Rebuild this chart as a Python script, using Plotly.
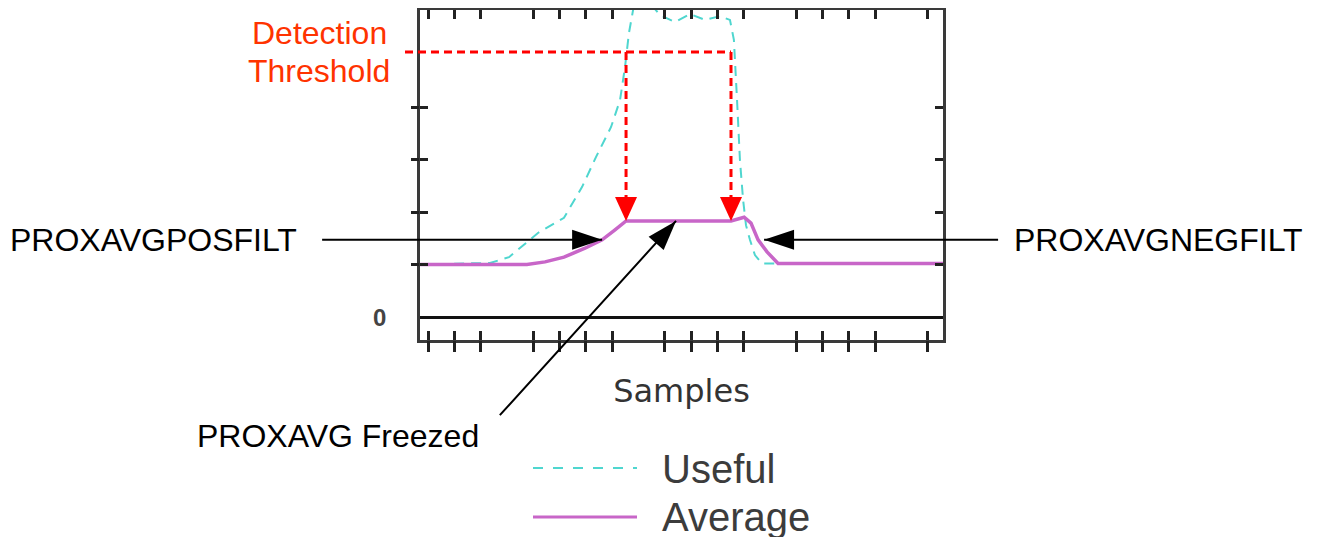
import plotly.graph_objects as go

# ---------------------------------------------------------------
# Data (x: sample index, y: arbitrary level)
# ---------------------------------------------------------------
X_TICKS = [0, 1, 2, 4, 5, 6, 7, 9, 10, 11, 12, 14, 15, 16, 17, 19]
Y_TICKS = [1, 2, 3, 4]
X_RANGE = [-0.304, 19.58]
Y_RANGE = [-0.438, 5.848]

# Useful signal (cyan dashed)
USEFUL_X = [-0.3, 2.36, 3.08, 4.18, 5.17, 5.86, 6.39, 6.96, 7.30, 7.49, 7.64, 7.83, 8.25,
            8.82, 9.39, 9.96, 10.53, 11.1, 11.48, 11.63, 11.75, 11.86, 11.98, 12.09,
            12.24, 12.43, 12.7, 19.6]
USEFUL_Y = [1.0, 1.03, 1.14, 1.6, 1.89, 2.48, 3.05, 3.62, 4.13, 4.76, 5.41, 5.94, 6.1,
            5.75, 5.62, 5.77, 5.66, 5.73, 5.66, 5.28, 4.13, 2.99, 2.23, 1.75,
            1.47, 1.18, 1.02, 1.02]

# Average (magenta solid) - frozen between index 7 and 8
AVG_X = [-0.3, 3.76, 4.45, 5.17, 5.97, 6.62, 7.11, 7.53, 11.52, 12.02, 12.28, 12.55,
         12.89, 13.31, 19.6]
AVG_Y = [1.0, 1.0, 1.05, 1.14, 1.31, 1.47, 1.66, 1.83, 1.83, 1.90, 1.79, 1.47,
         1.24, 1.02, 1.02]

THRESHOLD = 5.05
FREEZE_START, FREEZE_END, FREEZE_LEVEL = AVG_X[7], AVG_X[8], AVG_Y[7]
FREEZE_TIP_X = 9.43

# plot frame in window pixels; the page body adds an 8px margin
PL, PR, PT, PB = 420, 943, 10, 340
BODY = 8
W, H = 1322, 537


def paper(xp=None, yp=None):
    fx = None if xp is None else (xp - PL) / (PR - PL)
    fy = None if yp is None else (PB - yp) / (PB - PT)
    return fx, fy


CYAN = "#4fd6cf"
MAGENTA = "#c866c8"
RED = "#ff0000"
TXT_RED = "#ff3300"
FONT = "Liberation Sans, Arial, sans-serif"

fig = go.Figure()

fig.add_trace(go.Scatter(
    x=USEFUL_X, y=USEFUL_Y, mode="lines", name="Useful",
    line=dict(color=CYAN, width=2, dash="10px,7px"), showlegend=False
))
fig.add_trace(go.Scatter(
    x=AVG_X, y=AVG_Y, mode="lines", name="Average",
    line=dict(color=MAGENTA, width=3.5), showlegend=False
))
# invisible trace so the overlay tick axes get drawn
fig.add_trace(go.Scatter(
    x=AVG_X, y=AVG_Y, xaxis="x2", yaxis="y2", mode="lines",
    line=dict(width=0), opacity=0, hoverinfo="skip", showlegend=False
))

shapes = []
# threshold (dotted red)
x_end = (FREEZE_END - X_RANGE[0]) / (X_RANGE[1] - X_RANGE[0])
shapes.append(dict(type="line", xref="paper", yref="y", x0=paper(405)[0], x1=x_end,
                   y0=THRESHOLD, y1=THRESHOLD,
                   line=dict(color=RED, width=3, dash="8px,5px")))
for xv in (FREEZE_START, FREEZE_END):
    shapes.append(dict(type="line", xref="x", yref="y", x0=xv, x1=xv,
                       y0=THRESHOLD, y1=FREEZE_LEVEL + 0.3,
                       line=dict(color=RED, width=3, dash="8px,5px")))
    shapes.append(dict(type="path", xref="x", yref="y", xsizemode="pixel", ysizemode="pixel",
                       xanchor=xv, yanchor=FREEZE_LEVEL,
                       path="M0,0 L-11,24 L11,24 Z", fillcolor=RED, line=dict(width=0)))

# black arrow heads
shapes.append(dict(type="path", xref="x", yref="y", xsizemode="pixel", ysizemode="pixel",
                   xanchor=AVG_X[5], yanchor=AVG_Y[5],
                   path="M0,0 L-30,10 L-30,-10 Z", fillcolor="black", line=dict(width=0)))
shapes.append(dict(type="path", xref="x", yref="y", xsizemode="pixel", ysizemode="pixel",
                   xanchor=AVG_X[11], yanchor=AVG_Y[11],
                   path="M6,0 L36,10 L36,-10 Z", fillcolor="black", line=dict(width=0)))
shapes.append(dict(type="path", xref="x", yref="y", xsizemode="pixel", ysizemode="pixel",
                   xanchor=FREEZE_TIP_X, yanchor=FREEZE_LEVEL,
                   path="M0,0 L-27.4,-15.8 L-12.4,-29.1 Z", fillcolor="black",
                   line=dict(width=0)))

# legend samples
lx0, ly1 = paper(533, 468)
lx1, ly2 = paper(637, 517)
shapes.append(dict(type="line", xref="paper", yref="paper", x0=lx0, x1=lx1, y0=ly1, y1=ly1,
                   line=dict(color=CYAN, width=2, dash="10px,10px")))
shapes.append(dict(type="line", xref="paper", yref="paper", x0=lx0, x1=lx1, y0=ly2, y1=ly2,
                   line=dict(color=MAGENTA, width=3)))

annotations = []
arrow_font = dict(family=FONT, size=32, color="black")
annotations.append(dict(x=AVG_X[5], y=AVG_Y[5], xref="x", yref="y", text="PROXAVGPOSFILT",
                        showarrow=True, arrowhead=0, arrowwidth=2, arrowcolor="black",
                        axref="pixel", ayref="pixel", ax=299 - 602, ay=0,
                        xanchor="right", yanchor="middle", startstandoff=23, font=arrow_font))
annotations.append(dict(x=AVG_X[11], y=AVG_Y[11], xref="x", yref="y", text="PROXAVGNEGFILT",
                        showarrow=True, arrowhead=0, arrowwidth=2, arrowcolor="black",
                        axref="pixel", ayref="pixel", ax=1012 - 758, ay=0,
                        xanchor="left", yanchor="middle", startstandoff=14, standoff=6,
                        font=arrow_font))
annotations.append(dict(x=FREEZE_TIP_X, y=FREEZE_LEVEL, xref="x", yref="y",
                        text="PROXAVG Freezed",
                        showarrow=True, arrowhead=0, arrowwidth=2, arrowcolor="black",
                        axref="pixel", ayref="pixel", ax=481 - 676, ay=437 - 222,
                        xanchor="right", yanchor="middle", startstandoff=28, font=arrow_font))

tx, ty1 = paper(319, 33)
_, ty2 = paper(319, 71)
annotations.append(dict(x=tx, y=ty1, xref="paper", yref="paper", text="Detection",
                        xanchor="center", yanchor="middle",
                        showarrow=False, font=dict(family=FONT, size=32, color=TXT_RED)))
annotations.append(dict(x=tx, y=ty2, xref="paper", yref="paper", text="Threshold",
                        xanchor="center", yanchor="middle",
                        showarrow=False, font=dict(family=FONT, size=32, color=TXT_RED)))

# zero label
annotations.append(dict(x=paper(388)[0], y=0, xref="paper", yref="y", text="<b>0</b>",
                        showarrow=False, xanchor="right", yanchor="middle",
                        font=dict(family=FONT, size=24, color="#444")))

# legend labels
gx, gy1 = paper(660, 469)
_, gy2 = paper(660, 517)
annotations.append(dict(x=gx, y=gy1, xref="paper", yref="paper", text="Useful",
                        showarrow=False, xanchor="left", yanchor="middle",
                        font=dict(family=FONT, size=40, color="#3c3c3c")))
annotations.append(dict(x=gx, y=gy2, xref="paper", yref="paper", text="Average",
                        showarrow=False, xanchor="left", yanchor="middle",
                        font=dict(family=FONT, size=40, color="#3c3c3c")))

frame = "#3a3a3a"
fig.update_layout(
    width=W, height=H, autosize=False,
    margin=dict(l=PL - BODY, r=W - PR + BODY, t=PT - BODY, b=H - PB + BODY,
                autoexpand=False),
    paper_bgcolor="white", plot_bgcolor="white",
    shapes=shapes, annotations=annotations,
    xaxis=dict(range=X_RANGE, showgrid=False, zeroline=False, automargin=False,
               showline=True, mirror="ticks", linecolor=frame, linewidth=3,
               ticks="inside", ticklen=9, tickwidth=3, tickcolor="#222",
               tickvals=X_TICKS, showticklabels=False,
               title=dict(text="Samples", standoff=38,
                          font=dict(family="DejaVu Sans", size=32, color="#333"))),
    xaxis2=dict(overlaying="x", matches="x", anchor="y", side="bottom", automargin=False,
                showgrid=False, zeroline=False, showline=False,
                ticks="outside", ticklen=11, tickwidth=3, tickcolor="#222",
                tickvals=X_TICKS, showticklabels=False),
    yaxis=dict(range=Y_RANGE, showgrid=False, automargin=False,
               zeroline=True, zerolinecolor="#111", zerolinewidth=3,
               showline=True, mirror="ticks", linecolor=frame, linewidth=3,
               ticks="inside", ticklen=8, tickwidth=3, tickcolor="#222",
               tickvals=Y_TICKS, showticklabels=False),
    yaxis2=dict(overlaying="y", matches="y", anchor="x", side="left", automargin=False,
                showgrid=False, zeroline=False, showline=False,
                ticks="outside", ticklen=8, tickwidth=3, tickcolor="#222",
                tickvals=Y_TICKS, showticklabels=False),
)

fig.write_html("out.html")
